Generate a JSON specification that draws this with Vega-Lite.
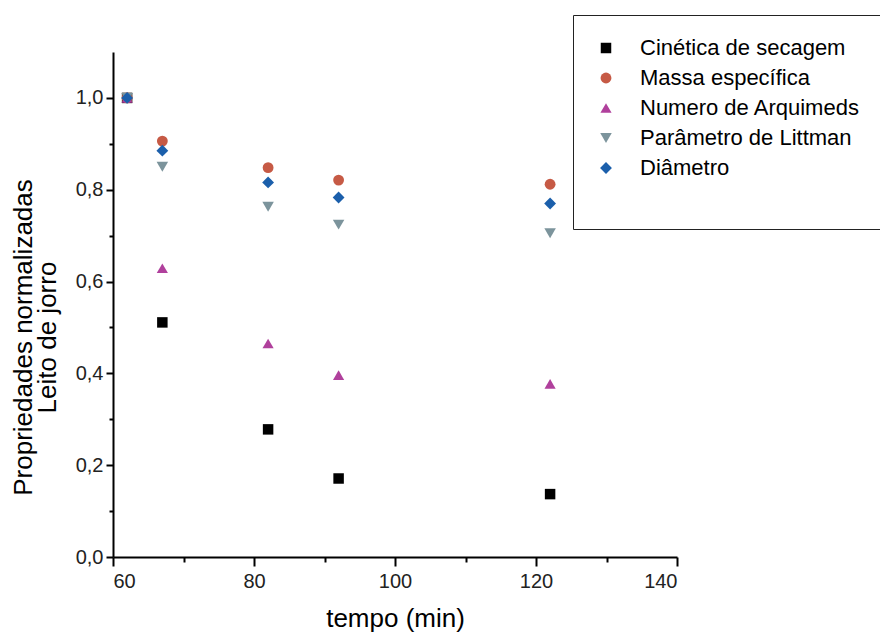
{
  "$schema": "https://vega.github.io/schema/vega-lite/v6.json",
  "autosize": "none",
  "width": 564,
  "height": 505,
  "padding": {"left": 113, "top": 52, "right": 203, "bottom": 80},
  "background": "white",
  "config": {
    "font": "Liberation Sans",
    "view": {"stroke": null}
  },
  "data": {
    "values": [
      {"tempo": 62, "valor": 1.0, "serie": "Cinética de secagem"},
      {"tempo": 67, "valor": 0.511, "serie": "Cinética de secagem"},
      {"tempo": 82, "valor": 0.278, "serie": "Cinética de secagem"},
      {"tempo": 92, "valor": 0.171, "serie": "Cinética de secagem"},
      {"tempo": 122, "valor": 0.137, "serie": "Cinética de secagem"},
      {"tempo": 62, "valor": 1.0, "serie": "Massa específica"},
      {"tempo": 67, "valor": 0.906, "serie": "Massa específica"},
      {"tempo": 82, "valor": 0.848, "serie": "Massa específica"},
      {"tempo": 92, "valor": 0.821, "serie": "Massa específica"},
      {"tempo": 122, "valor": 0.812, "serie": "Massa específica"},
      {"tempo": 62, "valor": 1.0, "serie": "Numero de Arquimeds"},
      {"tempo": 67, "valor": 0.629, "serie": "Numero de Arquimeds"},
      {"tempo": 82, "valor": 0.465, "serie": "Numero de Arquimeds"},
      {"tempo": 92, "valor": 0.396, "serie": "Numero de Arquimeds"},
      {"tempo": 122, "valor": 0.377, "serie": "Numero de Arquimeds"},
      {"tempo": 62, "valor": 1.0, "serie": "Parâmetro de Littman"},
      {"tempo": 67, "valor": 0.85, "serie": "Parâmetro de Littman"},
      {"tempo": 82, "valor": 0.763, "serie": "Parâmetro de Littman"},
      {"tempo": 92, "valor": 0.724, "serie": "Parâmetro de Littman"},
      {"tempo": 122, "valor": 0.705, "serie": "Parâmetro de Littman"},
      {"tempo": 62, "valor": 1.0, "serie": "Diâmetro"},
      {"tempo": 67, "valor": 0.885, "serie": "Diâmetro"},
      {"tempo": 82, "valor": 0.816, "serie": "Diâmetro"},
      {"tempo": 92, "valor": 0.783, "serie": "Diâmetro"},
      {"tempo": 122, "valor": 0.77, "serie": "Diâmetro"}
    ]
  },
  "mark": {"type": "point", "filled": true, "opacity": 1},
  "encoding": {
    "x": {
      "field": "tempo",
      "type": "quantitative",
      "scale": {"domain": [60, 140], "nice": false, "zero": false},
      "axis": {
        "title": "tempo (min)",
        "titleFontSize": 26,
        "titleFontWeight": "normal",
        "titleColor": "black",
        "titlePadding": 14,
        "values": [60, 70, 80, 90, 100, 110, 120, 130, 140],
        "labelExpr": "datum.value % 20 === 0 ? datum.label : ''",
        "labelFontSize": 20,
        "labelColor": "#222",
        "labelPadding": 5,
        "domainColor": "black",
        "domainWidth": 2,
        "tickColor": "black",
        "tickWidth": 2,
        "tickSize": {"condition": {"test": "datum.value % 20 === 0", "value": 9}, "value": 5},
        "grid": false
      }
    },
    "y": {
      "field": "valor",
      "type": "quantitative",
      "scale": {"domain": [0, 1.1], "nice": false},
      "axis": {
        "title": ["Propriedades normalizadas", "Leito de jorro"],
        "titleFontSize": 26,
        "titleLineHeight": 24,
        "titleFontWeight": "normal",
        "titleColor": "black",
        "titlePadding": 15,
        "titleY": 285,
        "values": [0, 0.1, 0.2, 0.3, 0.4, 0.5, 0.6, 0.7, 0.8, 0.9, 1.0],
        "labelExpr": "round(datum.value * 10) % 2 === 0 ? replace(format(datum.value, '.1f'), '.', ',') : ''",
        "labelFontSize": 20,
        "labelColor": "#222",
        "labelPadding": 3,
        "domainColor": "black",
        "domainWidth": 2,
        "tickColor": "black",
        "tickWidth": 2,
        "tickSize": {"condition": {"test": "round(datum.value * 10) % 2 === 0", "value": 7}, "value": 4},
        "grid": false
      }
    },
    "shape": {
      "field": "serie",
      "type": "nominal",
      "scale": {
        "domain": ["Cinética de secagem", "Massa específica", "Numero de Arquimeds", "Parâmetro de Littman", "Diâmetro"],
        "range": ["square", "circle", "triangle-up", "triangle-down", "diamond"]
      },
      "legend": {
        "orient": "none",
        "legendX": 460,
        "legendY": -37,
        "title": " ",
        "titleOrient": "bottom",
        "titleFontSize": 18,
        "titlePadding": 10,
        "strokeColor": "#222",
        "fillColor": "white",
        "padding": 22,
        "labelFontSize": 22,
        "labelColor": "black",
        "labelOffset": 23,
        "rowPadding": 8,
        "symbolStrokeWidth": 0,
        "labelLimit": 400
      }
    },
    "color": {
      "field": "serie",
      "type": "nominal",
      "scale": {
        "domain": ["Cinética de secagem", "Massa específica", "Numero de Arquimeds", "Parâmetro de Littman", "Diâmetro"],
        "range": ["#000000", "#c65a45", "#b0409c", "#7c949c", "#1b5fab"]
      }
    },
    "size": {
      "field": "serie",
      "type": "nominal",
      "scale": {
        "domain": ["Cinética de secagem", "Massa específica", "Numero de Arquimeds", "Parâmetro de Littman", "Diâmetro"],
        "range": [110, 140, 170, 170, 200]
      }
    }
  }
}
